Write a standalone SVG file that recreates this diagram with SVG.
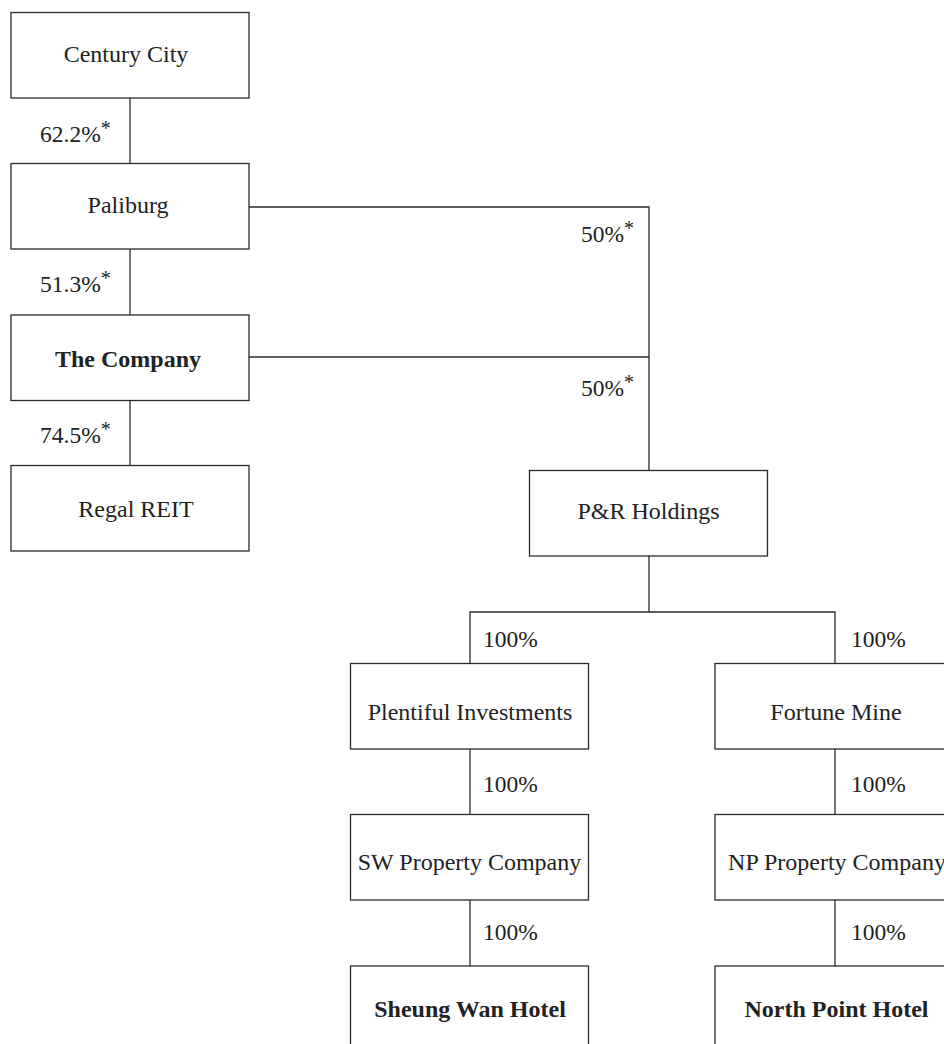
<svg xmlns="http://www.w3.org/2000/svg" width="944" height="1044" viewBox="0 0 944 1044">
<style>
.box{fill:#fff;stroke:#2a2a2a;stroke-width:1.3}
.ln{stroke:#2a2a2a;stroke-width:1.3;fill:none}
.t{font-family:"Liberation Serif","Times New Roman",serif;font-size:24px;fill:#222;text-anchor:middle}
.b{font-weight:bold}
.lbl{font-family:"Liberation Serif","Times New Roman",serif;font-size:23.5px;fill:#222}
.ast{font-size:20px}
</style>
<rect width="944" height="1044" fill="#fff"/>
<g id="connectors">
<line class="ln" x1="130" y1="98" x2="130" y2="164"/>
<line class="ln" x1="130" y1="249" x2="130" y2="315"/>
<line class="ln" x1="130" y1="400" x2="130" y2="466"/>
<polyline class="ln" points="249,207 649,207 649,470"/>
<line class="ln" x1="249" y1="357" x2="649" y2="357"/>
<line class="ln" x1="649" y1="556" x2="649" y2="612"/>
<polyline class="ln" points="470,663 470,612 835,612 835,663"/>
<line class="ln" x1="470" y1="749" x2="470" y2="815"/>
<line class="ln" x1="470" y1="900" x2="470" y2="966"/>
<line class="ln" x1="835" y1="749" x2="835" y2="815"/>
<line class="ln" x1="835" y1="900" x2="835" y2="966"/>
<text class="lbl" x="40" y="142">62.2%<tspan class="ast" dy="-7">*</tspan></text>
<text class="lbl" x="40" y="292">51.3%<tspan class="ast" dy="-7">*</tspan></text>
<text class="lbl" x="40" y="443">74.5%<tspan class="ast" dy="-7">*</tspan></text>
<text class="lbl" x="581" y="242">50%<tspan class="ast" dy="-7">*</tspan></text>
<text class="lbl" x="581" y="396">50%<tspan class="ast" dy="-7">*</tspan></text>
<text class="lbl" x="483" y="647">100%</text>
<text class="lbl" x="851" y="647">100%</text>
<text class="lbl" x="483" y="792">100%</text>
<text class="lbl" x="851" y="792">100%</text>
<text class="lbl" x="483" y="940">100%</text>
<text class="lbl" x="851" y="940">100%</text>
</g>
<g id="century-city"><rect class="box" x="11" y="12.5" width="238" height="85.5"/><text class="t" x="126" y="62">Century City</text></g>
<g id="paliburg"><rect class="box" x="11" y="163.5" width="238" height="85.5"/><text class="t" x="128" y="213">Paliburg</text></g>
<g id="the-company"><rect class="box" x="11" y="315" width="238" height="85.5"/><text class="t b" x="128" y="366.5">The Company</text></g>
<g id="regal-reit"><rect class="box" x="11" y="465.5" width="238" height="85.5"/><text class="t" x="136" y="516.5">Regal REIT</text></g>
<g id="pr-holdings"><rect class="box" x="529.5" y="470.5" width="238" height="85.5"/><text class="t" x="648.5" y="518.5">P&amp;R Holdings</text></g>
<g id="plentiful"><rect class="box" x="350.5" y="663.5" width="238" height="85.5"/><text class="t" x="470" y="720">Plentiful Investments</text></g>
<g id="fortune-mine"><rect class="box" x="715" y="663.5" width="238" height="85.5"/><text class="t" x="836" y="720">Fortune Mine</text></g>
<g id="sw-property"><rect class="box" x="350.5" y="814.5" width="238" height="85.5"/><text class="t" x="469.5" y="870">SW Property Company</text></g>
<g id="np-property"><rect class="box" x="715" y="814.5" width="238" height="85.5"/><text class="t" x="837" y="870">NP Property Company</text></g>
<g id="sheung-wan"><rect class="box" x="350.5" y="966" width="238" height="85.5"/><text class="t b" x="470" y="1017">Sheung Wan Hotel</text></g>
<g id="north-point"><rect class="box" x="715" y="966" width="238" height="85.5"/><text class="t b" x="836.5" y="1017">North Point Hotel</text></g>
</svg>
